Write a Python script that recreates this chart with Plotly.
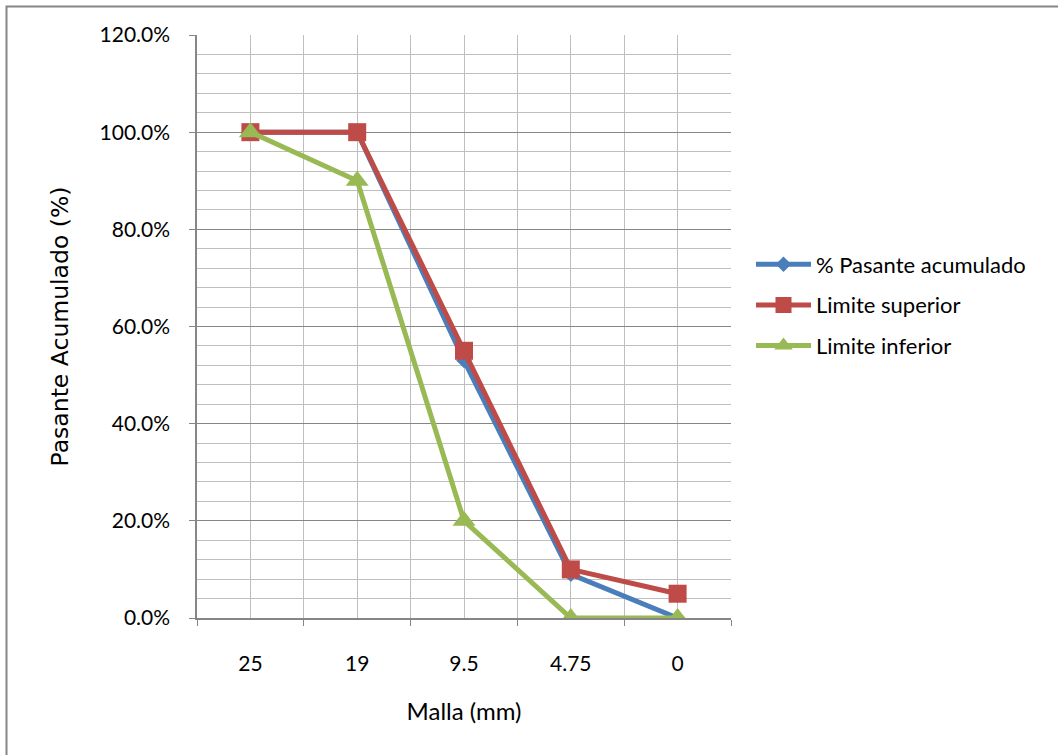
import plotly.graph_objects as go

mallas = ["25", "19", "9.5", "4.75", "0"]
pasante_acumulado = [1.00, 1.00, 0.53, 0.09, 0.00]
limite_superior = [1.00, 1.00, 0.55, 0.10, 0.05]
limite_inferior = [1.00, 0.90, 0.20, 0.00, 0.00]

xidx = list(range(len(mallas)))
FONT = "Lato"

fig = go.Figure()
series = [
    ("% Pasante acumulado", pasante_acumulado, "#4a7ebb", "diamond", 12),
    ("Limite superior", limite_superior, "#be4b48", "square", 18),
    ("Limite inferior", limite_inferior, "#98b954", "triangle-up", 20),
]
for name, vals, col, sym, sz in series:
    fig.add_trace(go.Scatter(
        x=xidx, y=vals, name=name, mode="lines+markers",
        line=dict(color=col, width=5),
        marker=dict(color=col, symbol=sym, size=sz, line=dict(width=0)),
        legendgroup=name,
    ))

fig.update_layout(
    width=1058, height=755,
    margin=dict(l=197, r=327, t=35, b=137),
    paper_bgcolor="white", plot_bgcolor="white",
    font=dict(family=FONT, size=21, color="black"),
    showlegend=True,
    legend=dict(x=(751 - 197) / 534, y=(618 - 305) / 583, xanchor="left", yanchor="middle",
                font=dict(family=FONT, size=22), tracegroupgap=9,
                itemwidth=55, bgcolor="rgba(0,0,0,0)"),
    xaxis=dict(
        range=[-0.5, len(mallas) - 0.5],
        tickvals=xidx, ticktext=mallas, ticks="",
        tickfont=dict(family=FONT, size=21),
        showgrid=True, gridcolor="#bfbfbf", gridwidth=1,
        showline=True, linecolor="#868686", linewidth=1.5,
        ticklabelstandoff=26,
        minor=dict(tick0=-0.5, dtick=1, showgrid=True, gridcolor="#bfbfbf",
                   gridwidth=1, ticks="outside", ticklen=6, tickcolor="#868686"),
        zeroline=False,
        title=dict(text="Malla (mm)", font=dict(family=FONT, size=24), standoff=29),
    ),
    yaxis=dict(
        range=[0, 1.2], dtick=0.2, tickformat=".1%",
        tickfont=dict(family=FONT, size=21),
        showgrid=True, gridcolor="#868686", gridwidth=1,
        showline=True, linecolor="#868686", linewidth=1.5,
        ticks="outside", ticklen=6, tickcolor="#868686",
        ticklabelstandoff=15,
        minor=dict(dtick=0.04, showgrid=True, gridcolor="#bfbfbf", gridwidth=1),
        zeroline=False,
        title=dict(text="Pasante Acumulado (%)", font=dict(family="DejaVu Sans", size=23.5), standoff=24),
    ),
    shapes=[dict(type="rect", xref="paper", yref="paper",
                 x0=(6.5 - 197) / 534, x1=(1070 - 197) / 534,
                 y0=(618 - 770) / 583, y1=(618 - 6.5) / 583,
                 line=dict(color="#868686", width=2), fillcolor="rgba(0,0,0,0)",
                 layer="below")],
)

fig.write_html("out.html", config={"displayModeBar": False},
               post_script="document.body.style.margin='0';document.body.style.padding='0';")
